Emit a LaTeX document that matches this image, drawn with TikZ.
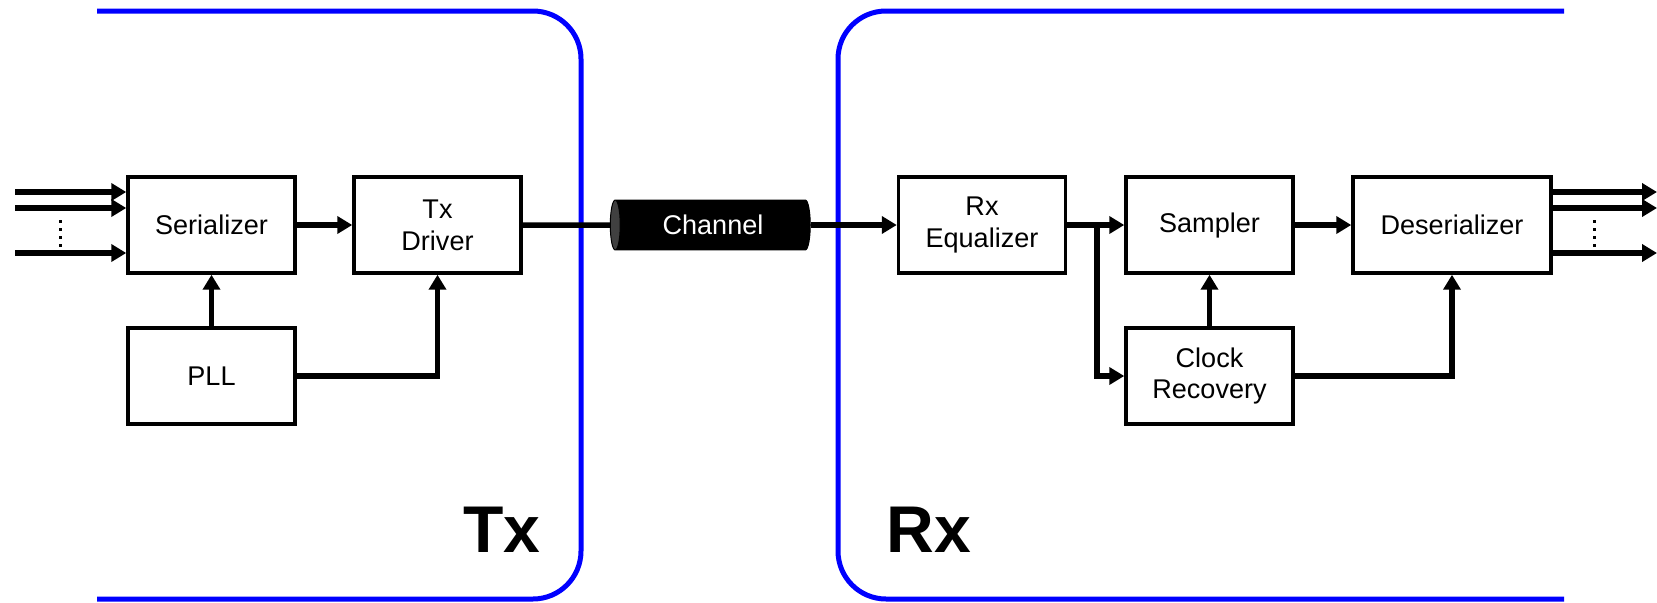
\documentclass[tikz,border=0pt]{standalone}
\usepackage{fontspec}
\setmainfont{Liberation Sans}
\usetikzlibrary{arrows.meta,shapes.geometric}

\begin{document}
\begin{tikzpicture}[x=0.02cm, y=-0.02cm,
    block/.style={draw, line width=0.07cm, minimum width=3.34cm, minimum height=1.92cm,
      align=center, font=\fontsize{15.4}{18.2}\selectfont, inner sep=0pt},
    sig/.style={line width=0.11cm, -{Triangle[length=0.3cm, width=0.34cm]}},
    wire/.style={line width=0.11cm},
    frame/.style={blue, line width=0.1cm, rounded corners=0.96cm},
    side/.style={font=\fontsize{37.6}{40}\selectfont\bfseries, inner sep=0pt, anchor=base}]
    \useasboundingbox (0,0) rectangle (1657,602);

    % Tx and Rx halves
    \draw[frame] (97,11) -- (581,11) -- (581,599) -- (97,599);
    \draw[frame] (1564,11) -- (838,11) -- (838,599) -- (1564,599);
    \node[side] (txlabel) at (502,552) {Tx};
    \node[side] (rxlabel) at (929,552) {Rx};

    % transmitter
    \node[block] (ser) at (211.5,225) {Serializer};
    \node[block] (drv) at (437.5,225) {Tx\\Driver};
    \node[block] (pll) at (211.5,376) {PLL};

    % the link
    \node[cylinder, shape border rotate=180, aspect=0.5, draw, line width=0.02cm,
      cylinder uses custom fill, cylinder body fill=black, cylinder end fill=black!75,
      minimum width=1cm, minimum height=4cm, inner sep=0pt, text=white,
      font=\fontsize{15.4}{18.2}\selectfont] (chan) at (713,225) {Channel};

    % receiver
    \node[block] (eq) at (982,225) {Rx\\Equalizer};
    \node[block] (smp) at (1209.5,225) {Sampler};
    \node[block] (cdr) at (1209.5,376) {Clock\\Recovery};
    \node[block, minimum width=3.96cm] (des) at (1452,225) {Deserializer};

    % parallel inputs and outputs
    \foreach \y/\n in {192/1, 208/2, 253/3} {
      \coordinate (in\n) at (15,\y);
      \coordinate (out\n) at (1657,\y);
      \draw[sig] (in\n) -- (in\n -| ser.west);
      \draw[sig] (out\n -| des.east) -- (out\n);
    }
    \foreach \y in {221,229,237,245} {
      \fill (58.5,\y-1.5) rectangle +(3,3);
      \fill (1592.5,\y-1.5) rectangle +(3,3);
    }

    \draw[sig] (ser) -- (drv);
    \draw[sig] (pll) -- (ser);
    \draw[sig] (pll.east) -| (drv.south);
    \draw[wire] (drv.east) -- (chan.west);
    \draw[sig] (chan.east) -- (eq.west);

    \coordinate (split) at (1097,225);
    \draw[sig] (eq) -- (smp);
    \draw[sig] (split) |- (cdr.west);
    \draw[sig] (cdr) -- (smp);
    \draw[sig] (smp) -- (des);
    \draw[sig] (cdr.east) -| (des.south);
\end{tikzpicture}
\end{document}
